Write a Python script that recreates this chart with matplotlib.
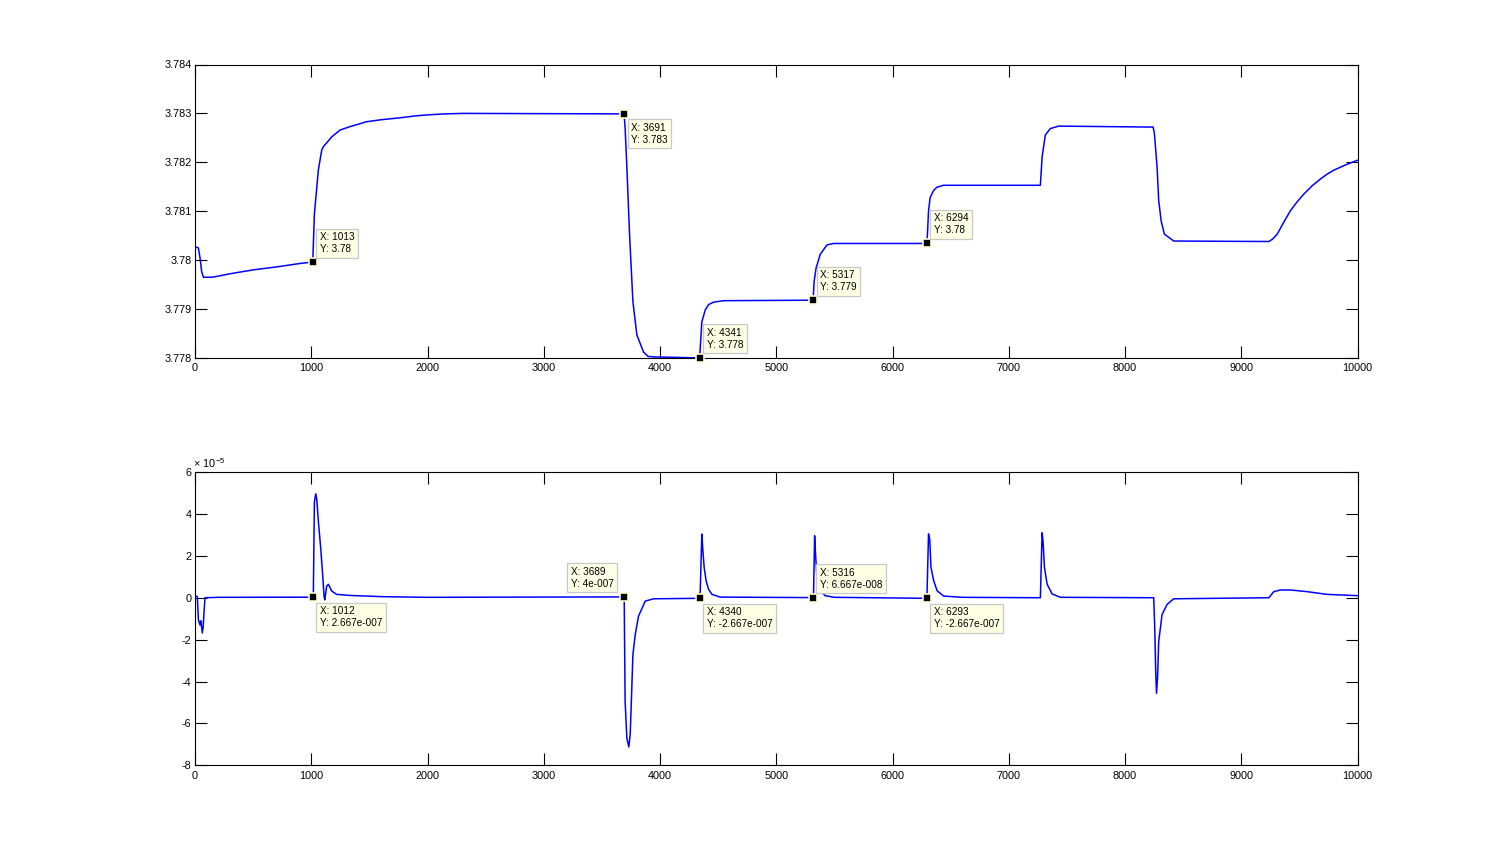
import matplotlib
matplotlib.use("Agg")
import matplotlib.pyplot as plt
from matplotlib.ticker import FuncFormatter

plt.rcParams["font.family"] = ["Liberation Sans", "DejaVu Sans"]
plt.rcParams["axes.unicode_minus"] = False
plt.rcParams["mathtext.default"] = "regular"

# ─── Top trace ────────────────────────────────────────────────────────────────
top_x = [0, 29, 43, 57, 72, 150, 300, 500, 700, 900, 1013, 1027, 1061, 1090,
         1104, 1130, 1176, 1248, 1334, 1477, 1600, 1764, 1900, 2000, 2150,
         2300, 3691, 3700, 3715, 3738, 3767, 3801, 3858, 3898, 3950, 4341,
         4360, 4369, 4389, 4418, 4461, 4547, 5317, 5326, 5343, 5379, 5436,
         5493, 6294, 6300, 6310, 6324, 6353, 6381, 6439, 7272, 7287, 7315,
         7358, 7430, 8242, 8253, 8276, 8290, 8311, 8339, 8420, 9237, 9270,
         9309, 9360, 9423, 9480, 9538, 9610, 9682, 9740, 9797, 9900, 9998]
top_y = [3.78027, 3.78025, 3.78005, 3.77977, 3.77965, 3.77965, 3.77972,
         3.77980, 3.77986, 3.77993, 3.77996, 3.78094, 3.78184, 3.78225,
         3.78232, 3.78239, 3.78252, 3.78266, 3.78273, 3.78283, 3.78287,
         3.78291, 3.78295, 3.78297, 3.78299, 3.78300, 3.78299, 3.78270,
         3.78190, 3.78053, 3.77915, 3.77847, 3.77812, 3.77803, 3.77802,
         3.77800, 3.77874, 3.77881, 3.77898, 3.77909, 3.77914, 3.77917,
         3.77918, 3.77957, 3.77984, 3.78012, 3.78031, 3.78034, 3.78034,
         3.78050, 3.78101, 3.78128, 3.78142, 3.78149, 3.78153, 3.78153,
         3.78211, 3.78256, 3.78269, 3.78274, 3.78272, 3.78259, 3.78190,
         3.78122, 3.78080, 3.78053, 3.78039, 3.78038, 3.78043, 3.78053,
         3.78075, 3.78101, 3.78119, 3.78135, 3.78152, 3.78166, 3.78176,
         3.78184, 3.78195, 3.78204]

# ─── Bottom trace, values in units of 1e-5 ────────────────────────────────────
bot_x = [0, 20, 29, 43, 50, 63, 70, 80, 86, 200, 1012, 1018, 1027, 1039,
         1047, 1062, 1082, 1099, 1110, 1116, 1133, 1148, 1176, 1219, 1334,
         1621, 2000, 3689, 3692, 3700, 3715, 3732, 3744, 3752, 3767, 3787,
         3815, 3873, 3945, 4340, 4346, 4360, 4369, 4380, 4397, 4418, 4447,
         4519, 5316, 5321, 5330, 5338, 5350, 5372, 5420, 5500, 6293, 6297,
         6310, 6320, 6331, 6354, 6383, 6440, 6600, 7272, 7287, 7295, 7307,
         7330, 7373, 7445, 8247, 8256, 8264, 8271, 8280, 8290, 8319, 8362,
         8419, 9237, 9280, 9337, 9423, 9567, 9739, 9998]
bot_y_e5 = [0.1, 0.05, -1.04, -1.3, -1.1, -1.68, -1.4, -0.48, 0.0, 0.02,
            0.027, 0.2, 4.56, 4.96, 4.72, 3.6, 2.32, 1.04, 0.1, -0.1, 0.56,
            0.64, 0.32, 0.16, 0.11, 0.05, 0.02, 0.04, 0.0, -4.96, -6.72,
            -7.12, -6.48, -5.2, -2.72, -1.76, -0.88, -0.16, -0.05, -0.027,
            0.3, 3.04, 2.24, 1.44, 0.8, 0.4, 0.16, 0.03, 0.0067, 0.2, 2.96,
            2.08, 0.96, 0.4, 0.1, 0.02, -0.027, 0.2, 3.05, 2.8, 1.45, 0.82,
            0.34, 0.08, 0.02, 0.0, 3.1, 2.7, 1.45, 0.65, 0.18, 0.02, 0.0,
            -1.44, -3.5, -4.56, -3.8, -2.08, -0.8, -0.32, -0.05, 0.0, 0.29,
            0.37, 0.37, 0.29, 0.16, 0.1]
bot_y = [v * 1e-5 for v in bot_y_e5]

# ─── Data tips: x, y, placement ───────────────────────────────────────────────
top_tip_x = [1013, 3691, 4341, 5317, 6294]
top_tip_y = [3.77996, 3.78299, 3.77800, 3.77918, 3.78034]
top_tip_pos = ["ur", "lr", "ur", "ur", "ur"]

bot_tip_x = [1012, 3689, 4340, 5316, 6293]
bot_tip_y = [2.667e-7, 4e-7, -2.667e-7, 6.667e-8, -2.667e-7]
bot_tip_pos = ["lr", "ul", "lr", "ur", "lr"]

x_ticks = list(range(0, 10001, 1000))
top_ticks = [3.778, 3.779, 3.780, 3.781, 3.782, 3.783, 3.784]
bot_ticks_e5 = [-8, -6, -4, -2, 0, 2, 4, 6]


def matlab_g(v):
    s = "%.4g" % v
    if "e" in s:
        m, e = s.split("e")
        s = "%se%s%03d" % (m, e[0], int(e[1:]))
    return s


def style_axes(ax):
    ax.tick_params(direction="in", length=8.4, width=0.8, top=True,
                   right=True, labelsize=7.8, pad=2.5)
    ax.tick_params(axis="x", pad=4)
    for s in ax.spines.values():
        s.set_linewidth(0.8)


def datatip(ax, x, y, pos):
    ax.plot(x, y, "s", ms=5.5, mfc="black", mec="#fffbd0", mew=1.2,
            zorder=5, clip_on=False)
    txt = "X: %d\nY: %s" % (x, matlab_g(y))
    dx = 7 if pos[1] == "r" else -10
    dy = 8 if pos[0] == "u" else -9
    ax.annotate(txt, (x, y), xytext=(dx, dy), textcoords="offset pixels",
                ha="left" if pos[1] == "r" else "right",
                va="bottom" if pos[0] == "u" else "top",
                multialignment="left",
                fontsize=7.2, linespacing=1.25, zorder=6,
                bbox=dict(boxstyle="square,pad=0.35", fc="#ffffe5",
                          ec="#c8c8c8", lw=0.9))


fig = plt.figure(figsize=(15, 8.6), dpi=100)
ax1 = fig.add_axes([0.13, 0.583837, 0.775, 0.341163])
ax2 = fig.add_axes([0.13, 0.11, 0.775, 0.341163])

ax1.plot(top_x, top_y, color="#0000ff", lw=1.1)
ax1.set_xlim(0, 10000)
ax1.set_ylim(3.778, 3.784)
ax1.set_xticks(x_ticks)
ax1.set_yticks(top_ticks)
ax1.yaxis.set_major_formatter(FuncFormatter(lambda v, p: "%g" % round(v, 4)))
style_axes(ax1)
for x, y, pos in zip(top_tip_x, top_tip_y, top_tip_pos):
    datatip(ax1, x, y, pos)

ax2.plot(bot_x, bot_y, color="#0000ff", lw=1.1)
ax2.set_xlim(0, 10000)
ax2.set_ylim(-8e-5, 6e-5)
ax2.set_xticks(x_ticks)
ax2.set_yticks([t * 1e-5 for t in bot_ticks_e5])
ax2.yaxis.set_major_formatter(FuncFormatter(lambda v, p: "%g" % round(v / 1e-5, 3)))
style_axes(ax2)
ax2.text(-0.002, 1.006, r"$\times\ 10^{-5}$", transform=ax2.transAxes,
         ha="left", va="bottom", fontsize=7.8)
for x, y, pos in zip(bot_tip_x, bot_tip_y, bot_tip_pos):
    datatip(ax2, x, y, pos)

fig.savefig("out.png", dpi=100)
